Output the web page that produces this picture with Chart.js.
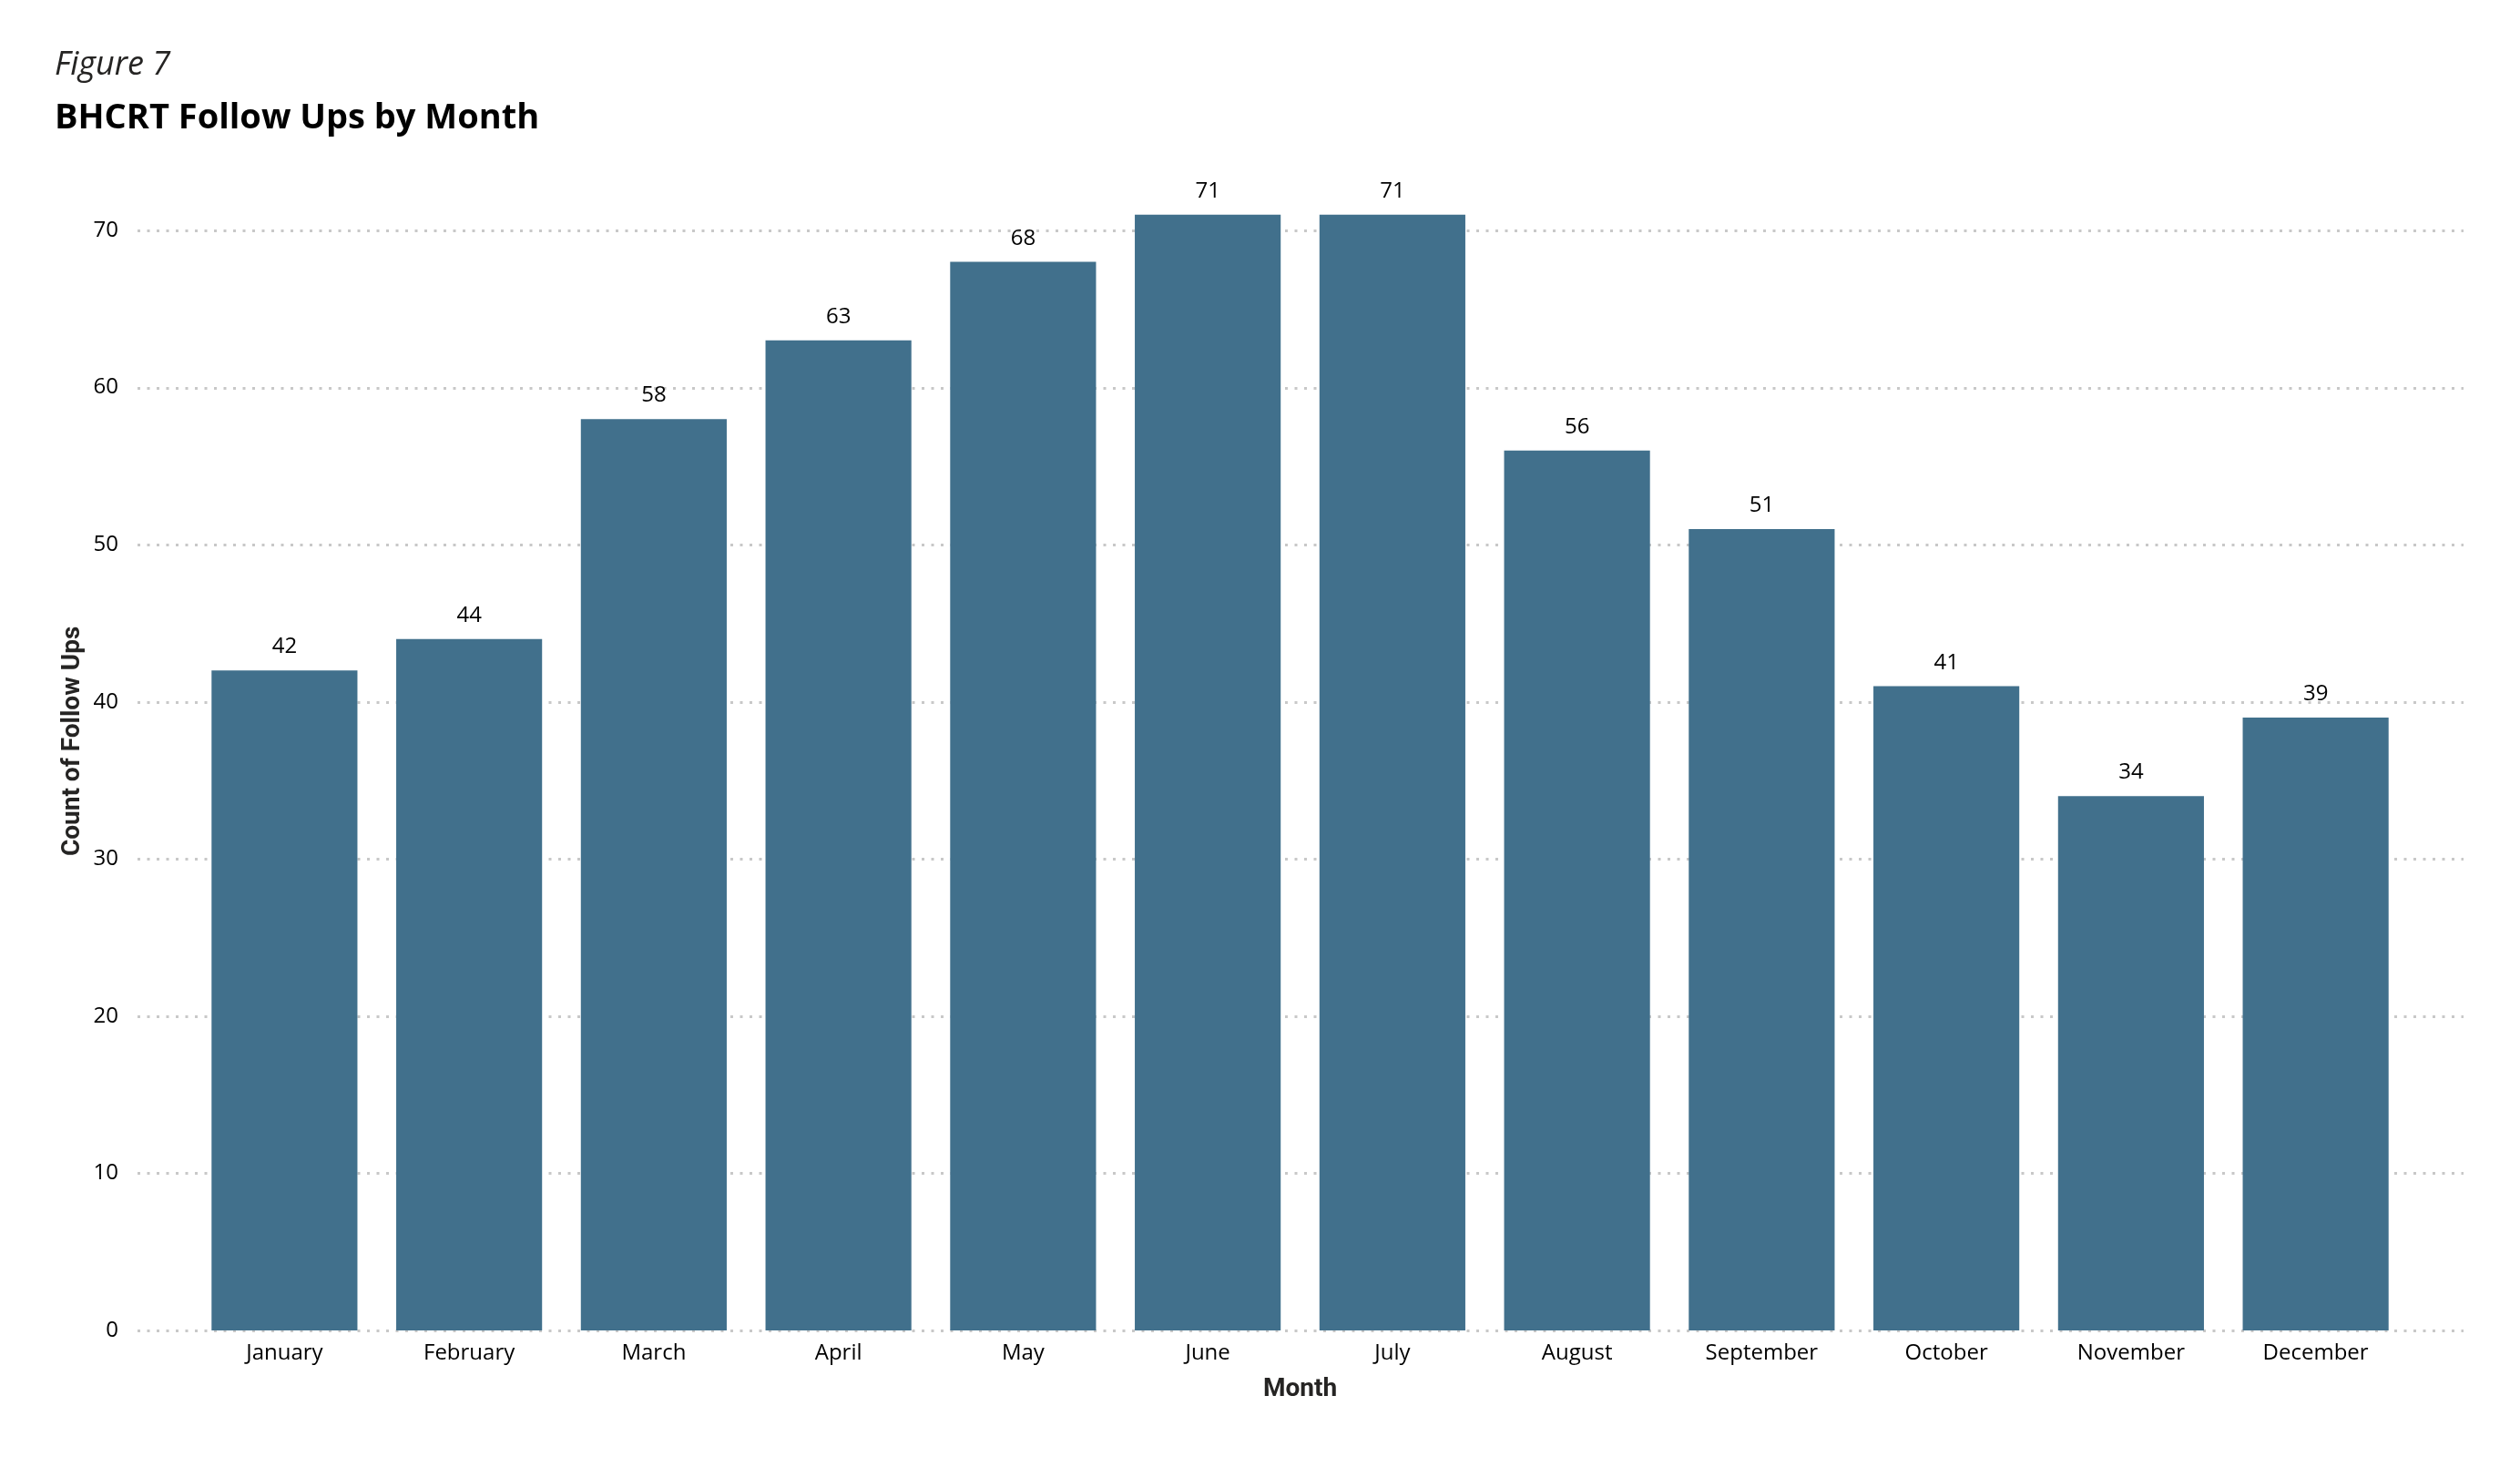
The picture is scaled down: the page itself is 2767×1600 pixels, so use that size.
<!DOCTYPE html>
<html lang="en">
<head>
    <meta charset="UTF-8">
    <title>BHCRT Follow Ups by Month</title>
    <script src="https://cdn.jsdelivr.net/npm/chart.js"></script>
    <style>
        html, body { margin: 0; padding: 0; background: #fff; }
        #wrap { width: 2767px; height: 1600px; }
    </style>
</head>
<body>
    <div id="wrap"><canvas id="myChart" width="2767" height="1600"></canvas></div>

    <script>
        // data
        const months = ['January', 'February', 'March', 'April', 'May', 'June',
                        'July', 'August', 'September', 'October', 'November', 'December'];
        const followUps = [42, 44, 58, 63, 68, 71, 71, 56, 51, 41, 34, 39];
        const yTickValues = [0, 10, 20, 30, 40, 50, 60, 70];

        const textFont = '"Segoe UI", "Open Sans", sans-serif';
        const dinFont = 'Roboto, "DejaVu Sans Condensed", sans-serif';

        // dotted horizontal grid, drawn a bit wider than the plot area (like Power BI)
        const dottedGrid = {
            id: 'dottedGrid',
            beforeDatasetsDraw(chart) {
                const { ctx, chartArea, scales } = chart;
                ctx.save();
                ctx.strokeStyle = '#c8c8c8';
                ctx.lineWidth = 3;
                ctx.setLineDash([3, 7.5]);
                yTickValues.forEach(v => {
                    const y = Math.round(scales.y.getPixelForValue(v)) + 0.5;
                    ctx.beginPath();
                    ctx.moveTo(chartArea.left - 60, y);
                    ctx.lineTo(chartArea.right + 61, y);
                    ctx.stroke();
                });
                ctx.restore();
            }
        };

        // value labels above each bar
        const barLabels = {
            id: 'barLabels',
            afterDatasetsDraw(chart) {
                const { ctx } = chart;
                const meta = chart.getDatasetMeta(0);
                ctx.save();
                ctx.font = '24px ' + textFont;
                ctx.fillStyle = '#000';
                ctx.textAlign = 'center';
                ctx.textBaseline = 'alphabetic';
                meta.data.forEach((bar, i) => {
                    ctx.fillText(String(followUps[i]), bar.x, bar.y - 19);
                });
                ctx.restore();
            }
        };

        const ctx = document.getElementById('myChart').getContext('2d');
        new Chart(ctx, {
            type: 'bar',
            data: {
                labels: months,
                datasets: [{
                    label: 'Count of Follow Ups',
                    data: followUps,
                    backgroundColor: '#41708c',
                    borderWidth: 0,
                    categoryPercentage: 1,
                    barPercentage: 0.79
                }]
            },
            options: {
                responsive: false,
                animation: false,
                layout: { padding: { left: 60, right: 123, top: 0, bottom: 0 } },
                plugins: {
                    legend: { display: false },
                    tooltip: { enabled: false },
                    title: {
                        display: true,
                        text: 'Figure 7',
                        align: 'start',
                        color: '#252423',
                        font: { family: textFont, size: 36, style: 'italic', weight: 'normal' },
                        padding: { top: 50, bottom: 0 }
                    },
                    subtitle: {
                        display: true,
                        text: 'BHCRT Follow Ups by Month',
                        align: 'start',
                        color: '#000',
                        font: { family: textFont, size: 38, weight: 'bold' },
                        padding: { top: 14, bottom: 14 }
                    }
                },
                scales: {
                    x: {
                        grid: { display: false, drawTicks: false },
                        border: { display: false },
                        ticks: {
                            color: '#000',
                            padding: 11,
                            maxRotation: 0,
                            autoSkip: false,
                            font: { family: textFont, size: 24 }
                        },
                        title: {
                            display: true,
                            text: 'Month',
                            color: '#252423',
                            font: { family: dinFont, size: 28, weight: 'bold' },
                            padding: { top: 0, bottom: 57 }
                        },
                        afterFit(scale) { scale.height = 139; }
                    },
                    y: {
                        min: 0,
                        max: 75,
                        grid: { display: false, drawTicks: false },
                        border: { display: false },
                        afterBuildTicks(scale) {
                            scale.ticks = yTickValues.map(v => ({ value: v }));
                        },
                        ticks: {
                            color: '#000',
                            padding: 81,
                            font: { family: textFont, size: 24 }
                        },
                        title: {
                            display: true,
                            text: 'Count of Follow Ups',
                            color: '#252423',
                            font: { family: dinFont, size: 28, weight: 'bold' },
                            padding: { top: 3, bottom: 0 }
                        },
                        afterFit(scale) { scale.width = 151; }
                    }
                }
            },
            plugins: [dottedGrid, barLabels]
        });
    </script>
</body>
</html>
